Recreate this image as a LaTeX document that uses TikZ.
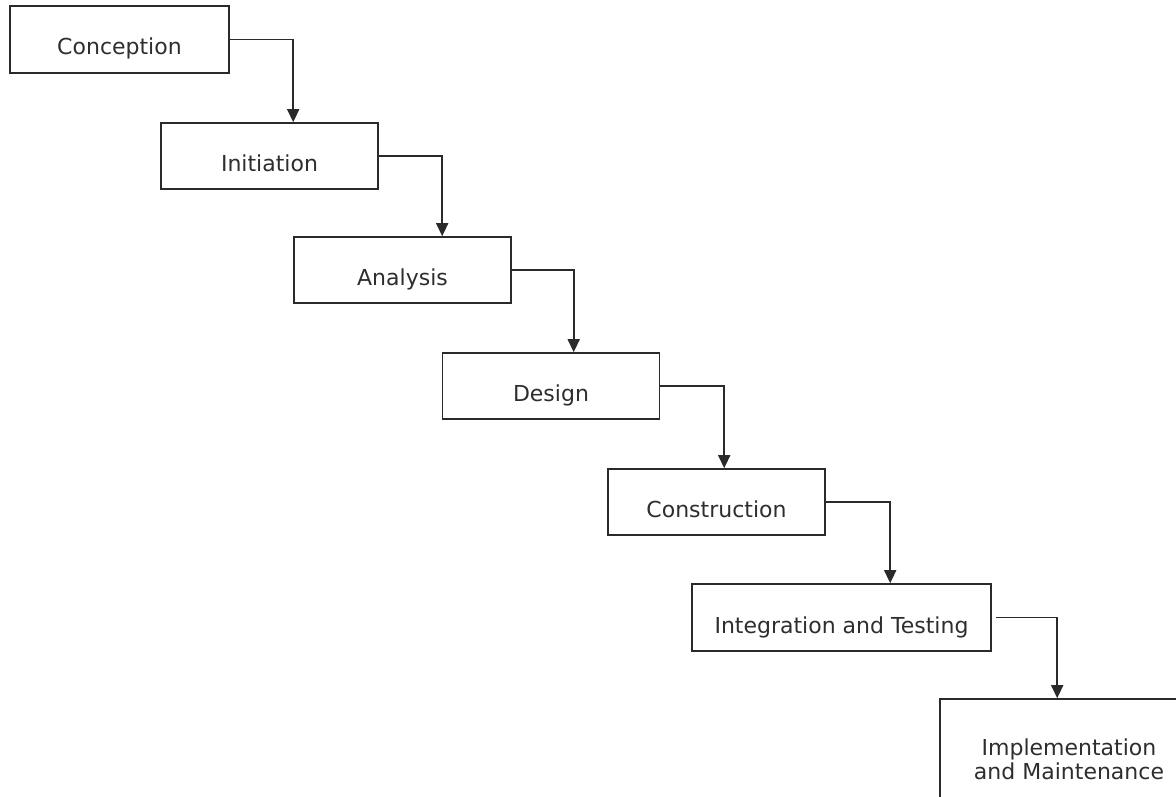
\documentclass[tikz,border=0pt]{standalone}
\usepackage{fontspec}
\setmainfont{DejaVu Sans}
\usetikzlibrary{arrows.meta}
\definecolor{linec}{HTML}{2A2A2A}
\definecolor{textc}{HTML}{2E2E2E}
\newcommand\lowered[1]{\raisebox{-15.5pt}[0pt][0pt]{#1}}
\tikzset{
  stagebox/.style={draw=linec, line width=1.6pt, fill=white, rectangle,
    minimum width=217pt, minimum height=66pt, inner sep=0pt,
    text=textc, font=\fontsize{22pt}{24pt}\selectfont},
  flow/.style={draw=linec, line width=1.6pt,
    -{Triangle[width=12pt,length=13pt]}},
}
\begin{document}
\begin{tikzpicture}[x=1pt,y=-1pt]
\fill[white] (0,0) rectangle (1176,797);
\useasboundingbox (0,0) rectangle (1176,797);
\clip (0,0) rectangle (1176,797);
\node[stagebox, minimum width=219pt, minimum height=67pt] (c1) at (119.5,39.5) {\lowered{Conception}};
\node[stagebox] (c2) at (269.5,156) {\lowered{Initiation}};
\node[stagebox] (c3) at (402.5,270) {\lowered{Analysis}};
\node[stagebox] (c4) at (551,386) {\lowered{Design}};
\node[stagebox] (c5) at (716.5,502) {\lowered{Construction}};
\node[stagebox, minimum width=299pt, minimum height=67pt] (c6) at (841.5,617.5) {\lowered{Integration and Testing}};
\node[stagebox, minimum width=258pt, minimum height=126pt, align=center] (c7) at (1069,762)
  {\raisebox{-17pt}[0pt][0pt]{\shortstack{Implementation\\[-1pt]and Maintenance}}};
\draw[flow] (c1.east) -| ([xshift=133pt]c2.north west);
\draw[flow] (c2.east) -| ([xshift=149pt]c3.north west);
\draw[flow] (c3.east) -| ([xshift=132pt]c4.north west);
\draw[flow] (c4.east) -| ([xshift=117pt]c5.north west);
\draw[flow] (c5.east) -| ([xshift=199pt]c6.north west);
\draw[flow] ([xshift=4pt]c6.east) -| ([xshift=118pt]c7.north west);
\end{tikzpicture}
\end{document}
